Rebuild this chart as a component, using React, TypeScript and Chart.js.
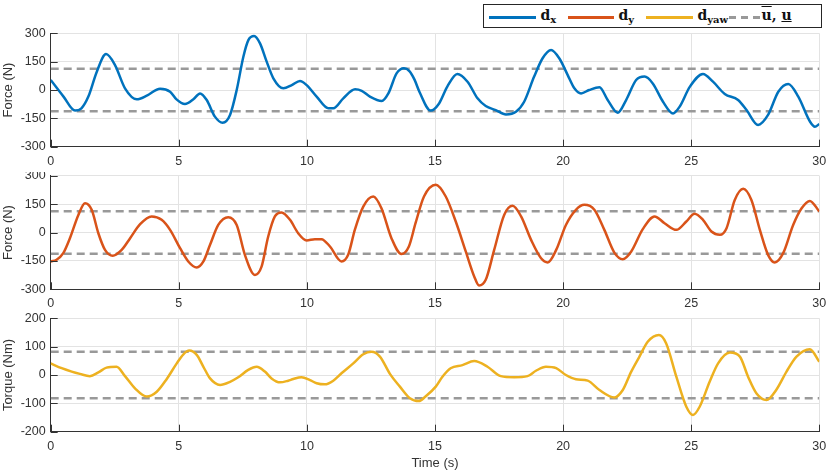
import React, { useEffect, useRef } from 'react';
import { Chart, registerables } from 'chart.js';
Chart.register(...registerables);

// disturbance samples: [time (s), value]
const dxSamples: [number, number][] = [
  [0, 53], [0.5, -35], [0.95, -109], [1.2, -97], [1.47, -35], [1.8, 97], [2.16, 190], [2.51, 132],
  [2.9, 9], [3.36, -49], [3.75, -30], [4.27, 7], [4.66, -9], [4.9, -48], [5.24, -74], [5.57, -49],
  [5.83, -18], [6.09, -53], [6.41, -141], [6.71, -173], [7.0, -132], [7.26, 0], [7.52, 176],
  [7.72, 265], [7.94, 286], [8.17, 247], [8.43, 150], [8.69, 62], [9.08, 9], [9.41, 26], [9.73, 48],
  [9.99, 26], [10.38, -35], [10.84, -97], [11.03, -97], [11.42, -44], [11.88, 4], [12.14, -4],
  [12.46, -35], [12.92, -58], [13.18, -18], [13.5, 88], [13.79, 115], [14.0, 100], [14.2, 55],
  [14.4, -12], [14.83, -109], [15.16, -71], [15.48, 18], [15.87, 85], [16.27, 44], [16.66, -44],
  [16.98, -85], [17.37, -106], [17.77, -129], [18.16, -115], [18.48, -62], [18.87, 71], [19.2, 168],
  [19.53, 212], [19.85, 168], [20.18, 79], [20.44, 9], [20.7, -18], [21.02, 0], [21.42, 14],
  [21.74, -53], [22.13, -120], [22.46, -53], [22.85, 53], [23.18, 71], [23.5, 35], [23.9, -62],
  [24.29, -124], [24.55, -88], [24.95, 18], [25.46, 85], [25.85, 44], [26.31, -21], [26.83, -53],
  [27.16, -106], [27.61, -185], [28.0, -132], [28.4, -9], [28.79, 32], [29.18, -35], [29.64, -168],
  [29.83, -194], [30, -180],
];

const dySamples: [number, number][] = [
  [0, -153], [0.23, -144], [0.49, -109], [0.75, -30], [1.08, 93], [1.34, 155], [1.6, 120],
  [1.86, -4], [2.12, -92], [2.42, -123], [2.77, -92], [3.1, -30], [3.49, 44], [3.94, 85],
  [4.33, 67], [4.66, 14], [5.05, -83], [5.37, -153], [5.7, -185], [5.96, -153], [6.22, -65],
  [6.54, 40], [6.93, 81], [7.26, 40], [7.58, -118], [7.97, -224], [8.23, -180], [8.49, -21],
  [8.75, 85], [9.01, 106], [9.34, 67], [9.66, -4], [9.99, -42], [10.31, -35], [10.57, -35],
  [10.9, -74], [11.35, -153], [11.61, -118], [11.87, 14], [12.2, 137], [12.59, 190], [12.91, 128],
  [13.3, -30], [13.69, -114], [13.98, -74], [14.24, 49], [14.57, 190], [15.03, 252], [15.42, 190],
  [15.81, 58], [16.2, -100], [16.53, -232], [16.72, -280], [16.98, -250], [17.31, -92], [17.7, 93],
  [18.03, 141], [18.36, 85], [18.75, -39], [19.14, -136], [19.4, -158], [19.73, -92], [20.11, 40],
  [20.5, 120], [20.83, 146], [21.22, 120], [21.61, 14], [22.0, -106], [22.33, -141], [22.66, -100],
  [23.11, 18], [23.57, 85], [23.96, 49], [24.42, 14], [24.81, 58], [25.13, 99], [25.46, 67],
  [25.79, 5], [26.12, -12], [26.38, 23], [26.7, 172], [27.03, 231], [27.35, 172], [27.68, 14],
  [28.0, -118], [28.26, -158], [28.59, -109], [28.98, 40], [29.31, 128], [29.63, 167], [30, 111],
];

const dyawSamples: [number, number][] = [
  [0, 41], [0.43, 24], [0.82, 12], [1.14, 4], [1.53, -4], [1.86, 9], [2.18, 26], [2.57, 29],
  [2.9, -4], [3.29, -47], [3.75, -76], [4.14, -59], [4.53, -14], [4.92, 41], [5.18, 73], [5.41, 86],
  [5.7, 71], [5.96, 29], [6.22, -12], [6.61, -35], [7.0, -24], [7.32, -8], [7.71, 18], [8.04, 29],
  [8.36, 12], [8.62, -12], [8.95, -26], [9.27, -20], [9.47, -14], [9.79, -8], [10.12, -18],
  [10.38, -29], [10.7, -33], [11.03, -20], [11.35, 6], [11.81, 41], [12.2, 73], [12.52, 82],
  [12.85, 65], [13.24, 4], [13.63, -41], [14.02, -82], [14.37, -92], [14.63, -76], [15.03, -41],
  [15.29, -6], [15.61, 24], [16.07, 35], [16.53, 49], [17.05, 29], [17.57, -4], [18.09, -8],
  [18.61, -4], [18.94, 15], [19.33, 29], [19.73, 24], [20.11, 0], [20.5, -15], [20.96, -20],
  [21.42, -53], [22.0, -79], [22.33, -53], [22.66, 12], [22.98, 65], [23.31, 118], [23.74, 141],
  [24.02, 112], [24.42, -6], [24.81, -112], [25.07, -141], [25.33, -112], [25.72, -24], [26.05, 41],
  [26.51, 79], [26.9, 65], [27.22, -6], [27.55, -65], [27.94, -88], [28.33, -51], [28.72, 12],
  [29.11, 65], [29.63, 91], [30, 47],
];

// bounds (upper / lower)
const forceBound = 112;
const torqueBound = 82;

const timeRange = [0, 30];
const forceTicks = [-300, 150, 300]; // min, step, max
const torqueTicks = [-200, 100, 200];

const BLUE = '#0072BD';
const RED = '#D95319';
const YELLOW = '#EDB120';
const BOUND = '#999999';
const AXIS = '#333333';
const GRID = '#e3e3e3';
const FONT = "'Liberation Sans', Arial, Helvetica, sans-serif";

const innerTicks = {
  id: 'innerTicks',
  afterDatasetsDraw(chart: any) {
    const { ctx, chartArea, scales } = chart;
    ctx.save();
    ctx.strokeStyle = AXIS;
    ctx.lineWidth = 1;
    ctx.beginPath();
    scales.x.ticks.forEach((t: any) => {
      const px = Math.round(scales.x.getPixelForValue(t.value)) + 0.5;
      ctx.moveTo(px, chartArea.bottom);
      ctx.lineTo(px, chartArea.bottom - 7);
    });
    scales.y.ticks.forEach((t: any) => {
      const py = Math.round(scales.y.getPixelForValue(t.value)) + 0.5;
      ctx.moveTo(chartArea.left, py);
      ctx.lineTo(chartArea.left + 7, py);
    });
    ctx.stroke();
    ctx.restore();
  },
};

interface SubPlotProps {
  samples: [number, number][];
  color: string;
  bound: number;
  yTicks: number[];
  yTitle: string;
  xTitle?: string;
  top: number;
  height: number;
  padTop: number;
  xHeight: number;
}

const SubPlot: React.FC<SubPlotProps> = ({ samples, color, bound, yTicks, yTitle, xTitle, top, height, padTop, xHeight }) => {
  const chartRef = useRef<HTMLCanvasElement>(null);
  const chartInstance = useRef<Chart | null>(null);

  useEffect(() => {
    if (!chartRef.current) return;
    const ctx = chartRef.current.getContext('2d');
    if (!ctx) return;
    if (chartInstance.current) chartInstance.current.destroy();

    const boundLine = (v: number) => ({
      data: timeRange.map((t) => ({ x: t, y: v })),
      borderColor: BOUND,
      borderWidth: 2.5,
      borderDash: [8, 5],
      pointRadius: 0,
    });

    chartInstance.current = new Chart(ctx, {
      type: 'line',
      data: {
        datasets: [
          {
            data: samples.map(([t, v]) => ({ x: t, y: v })),
            borderColor: color,
            borderWidth: 2.5,
            pointRadius: 0,
            cubicInterpolationMode: 'monotone',
          },
          boundLine(bound),
          boundLine(-bound),
        ],
      },
      options: {
        animation: false,
        responsive: true,
        maintainAspectRatio: false,
        layout: { padding: { left: 0, right: 10.7, top: padTop, bottom: 0 } },
        plugins: { legend: { display: false }, tooltip: { enabled: false } },
        scales: {
          x: {
            type: 'linear',
            min: timeRange[0],
            max: timeRange[1],
            afterFit: (s: any) => {
              s.height = xHeight;
              s.paddingLeft = 0;
              s.paddingRight = 0;
            },
            ticks: { stepSize: 5, padding: 7, color: AXIS, font: { family: FONT, size: 12.5 }, maxRotation: 0 },
            grid: { color: GRID, drawTicks: false },
            border: { color: AXIS, width: 1 },
            title: {
              display: !!xTitle,
              text: xTitle || '',
              color: AXIS,
              font: { family: FONT, size: 13 },
              padding: { top: 0, bottom: 4 },
            },
          },
          y: {
            min: yTicks[0],
            max: yTicks[2],
            afterFit: (s: any) => {
              s.width = 50.7;
              s.paddingTop = 0;
              s.paddingBottom = 0;
            },
            ticks: { stepSize: yTicks[1], padding: 5, color: AXIS, font: { family: FONT, size: 12.5 } },
            grid: { color: GRID, drawTicks: false },
            border: { color: AXIS, width: 1 },
            title: {
              display: true,
              text: yTitle,
              color: AXIS,
              font: { family: FONT, size: 13 },
              padding: { top: 1, bottom: 0 },
            },
          },
        },
      } as any,
      plugins: [innerTicks],
    });

    return () => {
      if (chartInstance.current) {
        chartInstance.current.destroy();
        chartInstance.current = null;
      }
    };
  }, [samples, color, bound, yTicks, yTitle, xTitle, padTop, xHeight]);

  return (
    <div style={{ position: 'absolute', left: 0, top, width: 830, height }}>
      <canvas ref={chartRef}></canvas>
    </div>
  );
};

const legendText: React.CSSProperties = {
  position: 'absolute',
  top: 2,
  fontFamily: "'DejaVu Serif', 'Liberation Serif', serif",
  fontWeight: 'bold',
  fontSize: 14,
  color: '#111',
  whiteSpace: 'nowrap',
};

const subStyle: React.CSSProperties = { fontSize: 10, verticalAlign: -3 };

const Legend: React.FC = () => {
  const line = (left: number, width: number, color: string) => (
    <div style={{ position: 'absolute', left, top: 11, width, height: 2.5, background: color }} />
  );
  return (
    <div
      style={{
        position: 'absolute',
        left: 482.5,
        top: 4,
        width: 339,
        height: 24,
        border: '1px solid #262626',
        background: '#fff',
        boxSizing: 'border-box',
      }}
    >
      {line(5, 47, BLUE)}
      <div style={{ ...legendText, left: 57 }}>d<sub style={subStyle}>x</sub></div>
      {line(84, 46, RED)}
      <div style={{ ...legendText, left: 135 }}>d<sub style={subStyle}>y</sub></div>
      {line(162, 47, YELLOW)}
      <div style={{ ...legendText, left: 214 }}>d<sub style={subStyle}>yaw</sub></div>
      <div
        style={{
          position: 'absolute',
          left: 245,
          top: 11,
          width: 31,
          height: 2.5,
          background: `repeating-linear-gradient(90deg, ${BOUND} 0 7px, transparent 7px 12px)`,
        }}
      />
      <div style={{ ...legendText, left: 278 }}>
        <span style={{ textDecoration: 'overline' }}>u</span>,{' '}
        <span style={{ textDecoration: 'underline' }}>u</span>
      </div>
    </div>
  );
};

const App: React.FC = () => {
  return (
    <div style={{ position: 'absolute', left: 0, top: 0, width: 830, height: 475, background: '#fff', overflow: 'hidden' }}>
      <SubPlot samples={dxSamples} color={BLUE} bound={forceBound} yTicks={forceTicks} yTitle="Force (N)"
        top={0} height={172} padTop={33.3} xHeight={25.3} />
      <SubPlot samples={dySamples} color={RED} bound={forceBound} yTicks={forceTicks} yTitle="Force (N)"
        top={172} height={140} padTop={3.7} xHeight={22.7} />
      <SubPlot samples={dyawSamples} color={YELLOW} bound={torqueBound} yTicks={torqueTicks} yTitle="Torque (Nm)"
        xTitle="Time (s)" top={312} height={163} padTop={6.3} xHeight={43.3} />
      <Legend />
    </div>
  );
};

export default App;
